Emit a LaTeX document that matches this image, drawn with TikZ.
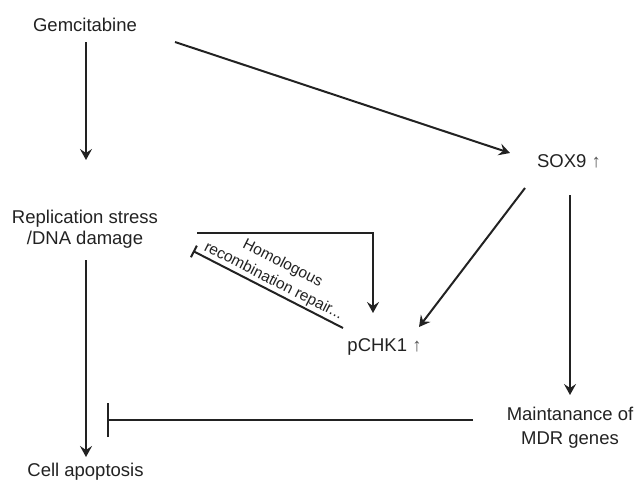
\documentclass[tikz,border=0pt]{standalone}
\usepackage{fontspec}
\setmainfont{Liberation Sans}
\usetikzlibrary{arrows.meta}
\definecolor{ink}{HTML}{222222}
\definecolor{upgray}{HTML}{555555}
\begin{document}
\begin{tikzpicture}[x=1pt,y=-1pt,
  txt/.style={font=\fontsize{18.5}{21}\selectfont, text=ink, inner sep=0pt, align=center},
  lbl/.style={font=\fontsize{15.5}{20}\selectfont, text=ink, inner sep=0pt, align=center},
  arr/.style={draw=ink, line width=2pt, -{Stealth[length=11pt,width=12pt,inset=4pt]}},
  inhib/.style={draw=ink, line width=2pt}]
\useasboundingbox (0,0) rectangle (636,480);
% texts
\node[txt, anchor=base] (gem) at (85,31) {Gemcitabine};
\node[txt, anchor=center] (rep) at (85,229.5) {Replication stress\\/DNA damage};
\node[txt, anchor=base] (apop) at (85.5,476) {Cell apoptosis};
\node[txt, anchor=base] (sox) at (569,167) {SOX9 \textcolor{upgray}{↑}};
\node[txt, anchor=base] (pchk) at (384.5,351) {pCHK1 \textcolor{upgray}{↑}};
\node[txt, anchor=center, font=\fontsize{18.5}{24}\selectfont] (mdr) at (570,427.5) {Maintanance of\\MDR genes};
\node[lbl, rotate=-27] (hrr) at (278,272.5) {Homologous\\recombination repair...};
% connector ends
\coordinate (gemA) at (86,42);
\coordinate (repT) at (86,160);
\coordinate (repB) at (86,260);
\coordinate (apopT) at (86,457);
\coordinate (gemB) at (175,42);
\coordinate (soxL) at (510,153);
\coordinate (soxA) at (525,188);
\coordinate (soxB) at (570,195);
\coordinate (pchkR) at (419,327);
\coordinate (mdrT) at (570,395);
\coordinate (repR) at (197,233);
\coordinate (pchkT) at (373,313);
\coordinate (pchkL) at (343,328);
\coordinate (repI) at (193,251);
\coordinate (mdrL) at (473,420);
\coordinate (apopI) at (107,420);
% connectors
\draw[arr] (gemA) -- (repT);
\draw[arr] (repB) -- (apopT);
\draw[arr] (gemB) -- (soxL);
\draw[arr] (soxA) -- (pchkR);
\draw[arr] (soxB) -- (mdrT);
\draw[arr] (repR) -| (pchkT);
\draw[inhib, -{Bar[width=13pt]}] (pchkL) -- (repI);
\draw[inhib, -{Bar[width=34pt]}] (mdrL) -- (apopI);
\end{tikzpicture}
\end{document}
